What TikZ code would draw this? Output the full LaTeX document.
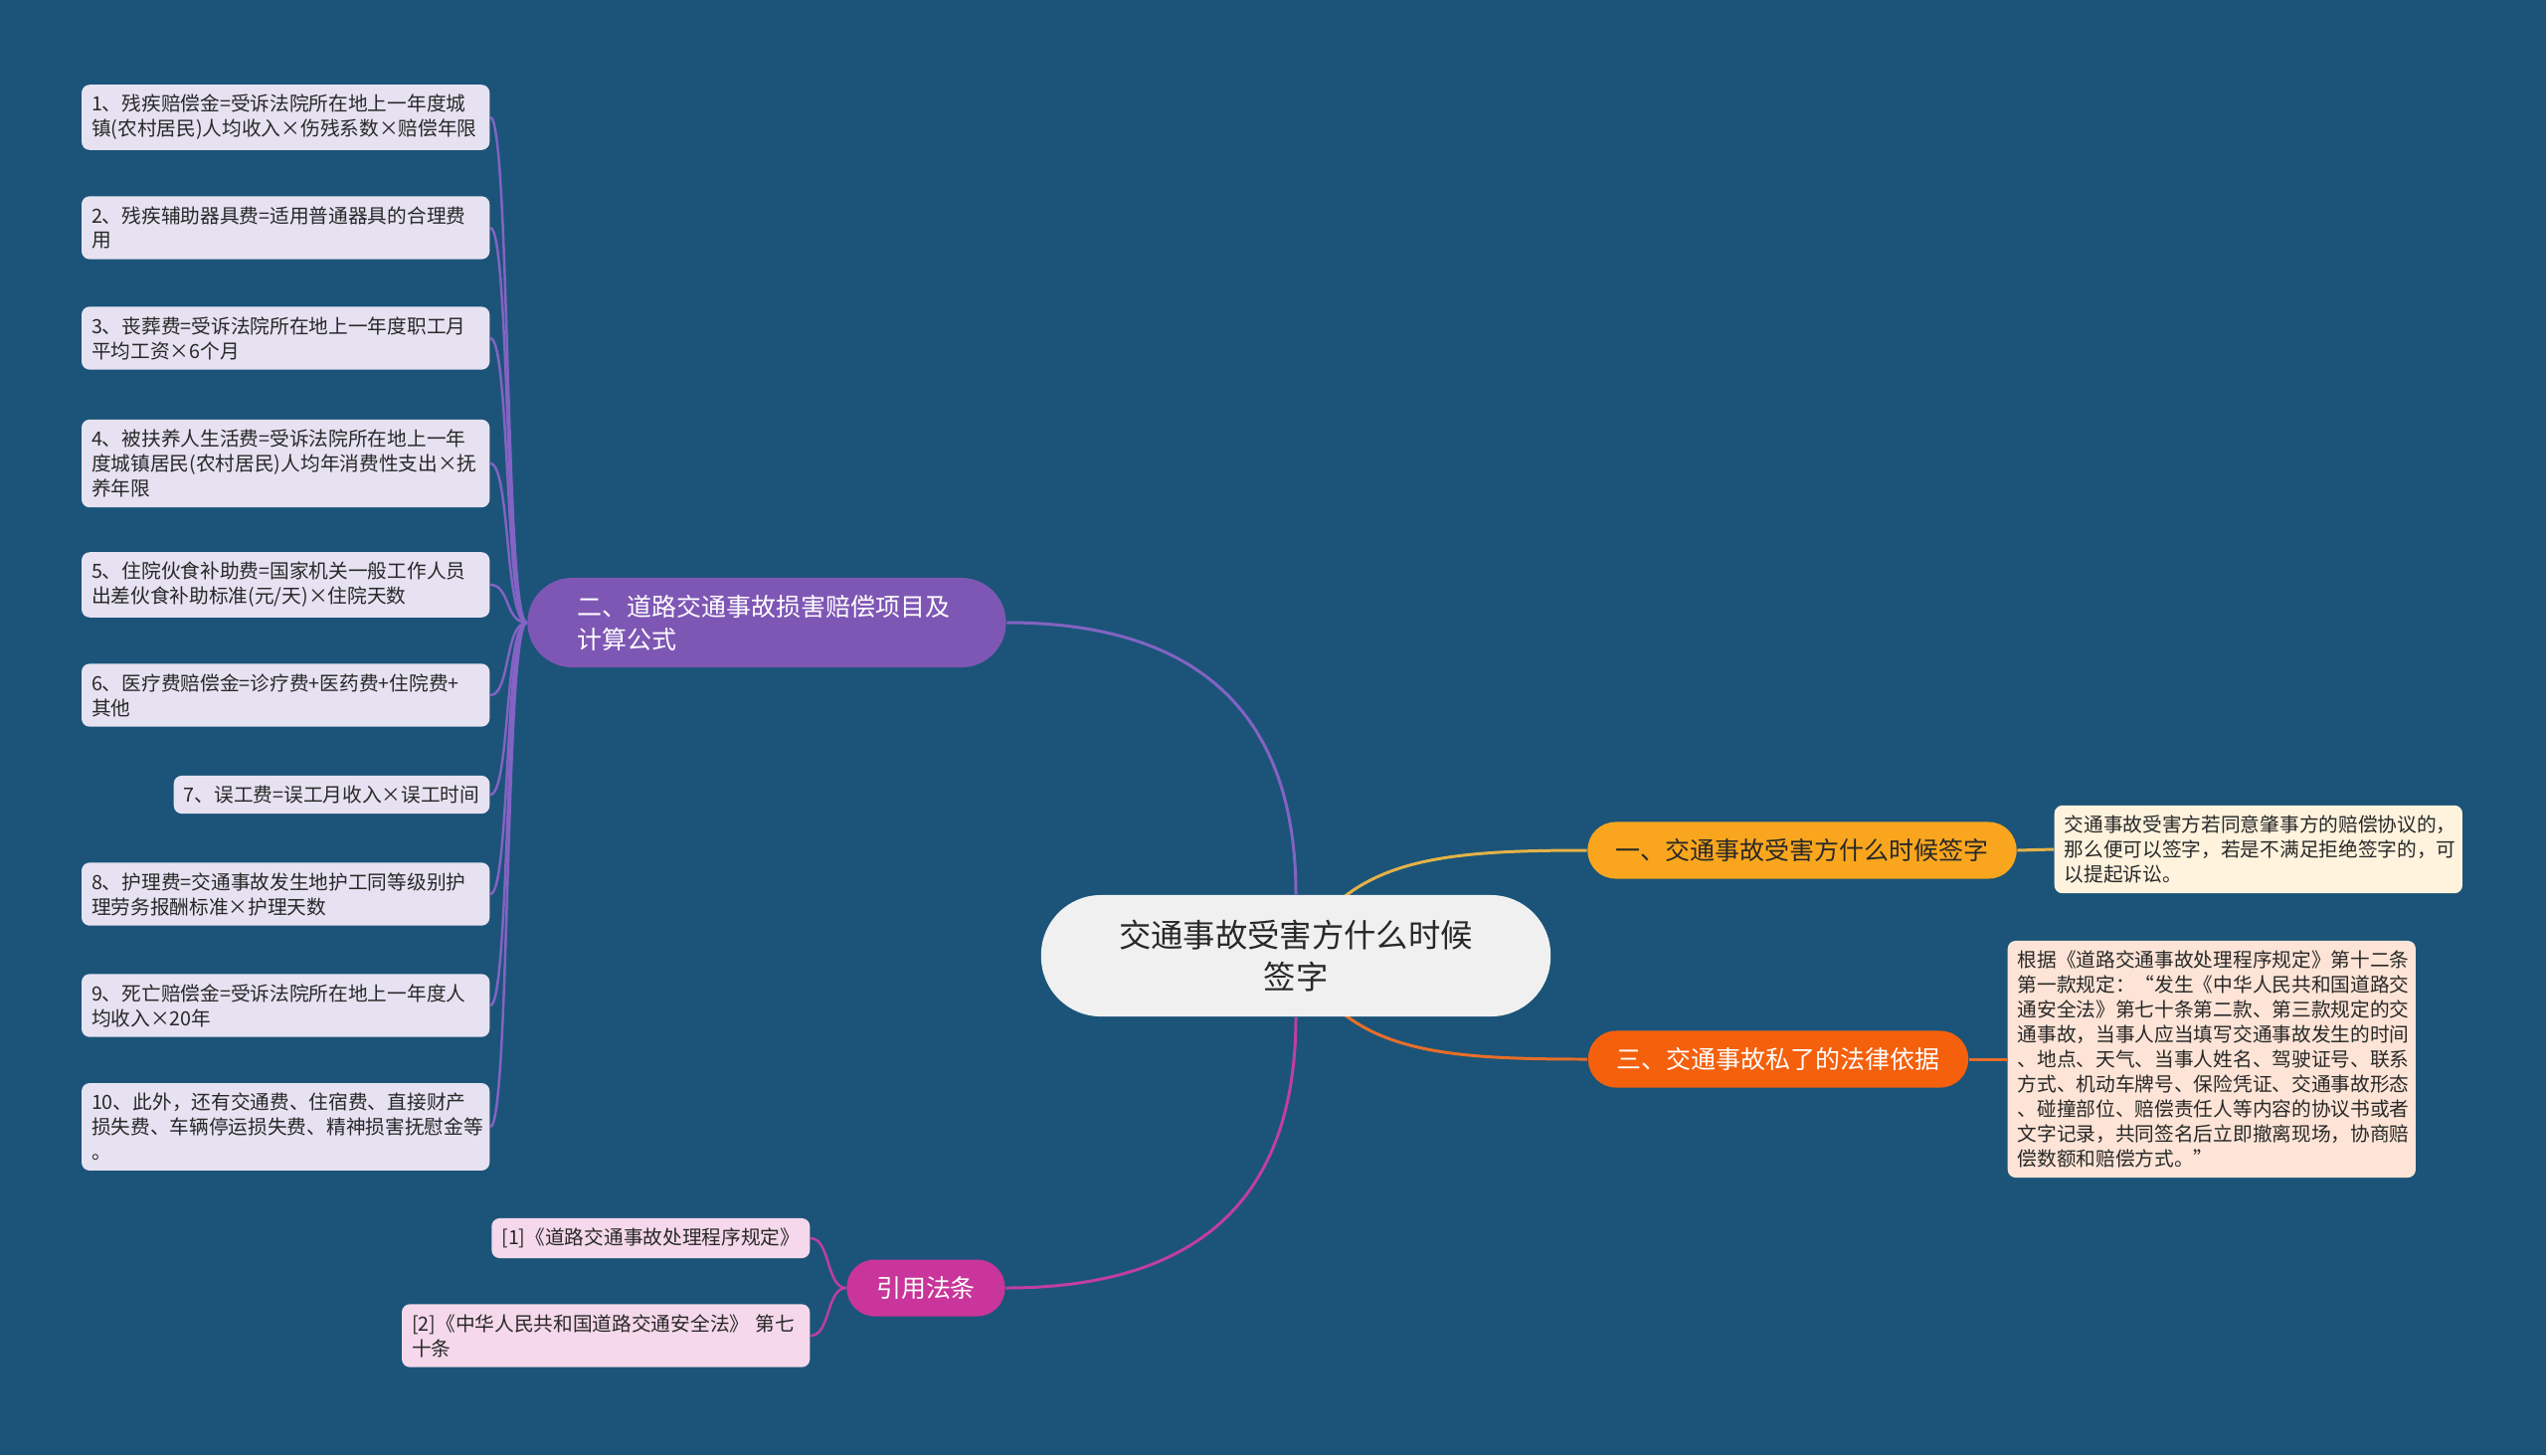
\documentclass[tikz,border=0pt]{standalone}
\usepackage{fontspec}
\setmainfont{Noto Sans CJK SC}
\usepackage{xcolor}
\usepackage{tikz}
\definecolor{bgblue}{RGB}{27,84,120}
\definecolor{rootgray}{RGB}{240,240,240}
\definecolor{textdark}{RGB}{40,40,40}
\definecolor{calcfill}{RGB}{126,87,181}
\definecolor{calcline}{RGB}{131,99,196}
\definecolor{calcleaf}{RGB}{231,226,242}
\definecolor{whenfill}{RGB}{249,166,30}
\definecolor{whenline}{RGB}{228,178,72}
\definecolor{whenleaf}{RGB}{255,243,222}
\definecolor{lawfill}{RGB}{245,96,13}
\definecolor{lawline}{RGB}{232,110,40}
\definecolor{lawleaf}{RGB}{253,228,214}
\definecolor{citefill}{RGB}{201,53,154}
\definecolor{citeline}{RGB}{192,62,162}
\definecolor{citeleaf}{RGB}{245,216,235}
\pgfdeclarelayer{bg}
\pgfsetlayers{bg,main}

\begin{document}
\begin{tikzpicture}[x=0.01cm, y=-0.01cm,
    rootbox/.style={fill=rootgray, rounded corners=0.6cm, minimum width=5.12cm, minimum height=1.22cm, inner sep=0pt, align=center, text=textdark, font=\fontsize{9.2}{11.9}\selectfont},
    branchbox/.style={rounded corners=0.28cm, minimum height=0.57cm, inner sep=0pt, font=\fontsize{7.1}{9.4}\selectfont},
    notebox/.style={rounded corners=0.08cm, align=left, inner sep=0.1cm, text=textdark, font=\fontsize{5.6}{7.1}\selectfont},
    leafbox/.style={notebox, text width=3.9cm},
    link/.style={line width=0.85pt},
    leaflink/.style={line width=0.7pt}]
    \node[rootbox] (root) at (1303,961) {交通事故受害方什么时候\\签字};

    \node[branchbox, fill=calcfill, text=white, minimum width=4.81cm, minimum height=0.9cm, rounded corners=0.45cm, text width=3.8cm, align=left] (calc) at (771,626) {二、道路交通事故损害赔偿项目及\\计算公式};
    \node[branchbox, fill=whenfill, text=textdark, minimum width=4.31cm] (when) at (1812,855) {一、交通事故受害方什么时候签字};
    \node[branchbox, fill=lawfill, text=white, minimum width=3.82cm] (law) at (1788,1065) {三、交通事故私了的法律依据};
    \node[branchbox, fill=citefill, text=white, minimum width=1.59cm] (cite) at (931,1295) {引用法条};

    \node[leafbox, fill=calcleaf, anchor=east] (f1) at (493,118) {1、残疾赔偿金=受诉法院所在地上一年度城\\镇(农村居民)人均收入×伤残系数×赔偿年限};
    \node[leafbox, fill=calcleaf, anchor=east] (f2) at (493,229) {2、残疾辅助器具费=适用普通器具的合理费\\用};
    \node[leafbox, fill=calcleaf, anchor=east] (f3) at (493,340) {3、丧葬费=受诉法院所在地上一年度职工月\\平均工资×6个月};
    \node[leafbox, fill=calcleaf, anchor=east] (f4) at (493,466) {4、被扶养人生活费=受诉法院所在地上一年\\度城镇居民(农村居民)人均年消费性支出×抚\\养年限};
    \node[leafbox, fill=calcleaf, anchor=east] (f5) at (493,588) {5、住院伙食补助费=国家机关一般工作人员\\出差伙食补助标准(元/天)×住院天数};
    \node[leafbox, fill=calcleaf, anchor=east] (f6) at (493,699) {6、医疗费赔偿金=诊疗费+医药费+住院费+\\其他};
    \node[notebox, fill=calcleaf, anchor=east] (f7) at (493,799) {7、误工费=误工月收入×误工时间};
    \node[leafbox, fill=calcleaf, anchor=east] (f8) at (493,899) {8、护理费=交通事故发生地护工同等级别护\\理劳务报酬标准×护理天数};
    \node[leafbox, fill=calcleaf, anchor=east] (f9) at (493,1011) {9、死亡赔偿金=受诉法院所在地上一年度人\\均收入×20年};
    \node[leafbox, fill=calcleaf, anchor=east] (f10) at (493,1133) {10、此外，还有交通费、住宿费、直接财产\\损失费、车辆停运损失费、精神损害抚慰金等\\。};

    \node[leafbox, fill=whenleaf, anchor=west] (whennote) at (2065,854) {交通事故受害方若同意肇事方的赔偿协议的，\\那么便可以签字，若是不满足拒绝签字的，可\\以提起诉讼。};
    \node[leafbox, fill=lawleaf, anchor=west] (lawnote) at (2018,1065) {根据《道路交通事故处理程序规定》第十二条\\第一款规定：“发生《中华人民共和国道路交\\通安全法》第七十条第二款、第三款规定的交\\通事故，当事人应当填写交通事故发生的时间\\、地点、天气、当事人姓名、驾驶证号、联系\\方式、机动车牌号、保险凭证、交通事故形态\\、碰撞部位、赔偿责任人等内容的协议书或者\\文字记录，共同签名后立即撤离现场，协商赔\\偿数额和赔偿方式。”};

    \node[notebox, fill=citeleaf, anchor=east] (r1) at (815,1245) {[1]《道路交通事故处理程序规定》};
    \node[leafbox, fill=citeleaf, anchor=east] (r2) at (815,1343) {[2]《中华人民共和国道路交通安全法》~第七\\十条};

    \begin{pgfonlayer}{bg}
        \fill[bgblue] (0,0) rectangle (2560,1463);
        \draw[link, calcline] (root.north) .. controls (1303,717) and (1204,626) .. (calc.east);
        \draw[link, whenline] (root.center) .. controls (1355,865) and (1440,855) .. (when.west);
        \draw[link, lawline] (root.center) .. controls (1355,1057) and (1440,1065) .. (law.west);
        \draw[link, citeline] (root.south) .. controls (1303,1204) and (1206,1295) .. (cite.east);
        \draw[link, whenline] (when.east) -- (whennote.west);
        \draw[link, lawline] (law.east) -- (lawnote.west);
        \draw[leaflink, calcline] (calc.west) .. controls +(-22,0) and +(20,0) .. (f1.east);
        \draw[leaflink, calcline] (calc.west) .. controls +(-22,0) and +(20,0) .. (f2.east);
        \draw[leaflink, calcline] (calc.west) .. controls +(-22,0) and +(20,0) .. (f3.east);
        \draw[leaflink, calcline] (calc.west) .. controls +(-22,0) and +(20,0) .. (f4.east);
        \draw[leaflink, calcline] (calc.west) .. controls +(-22,0) and +(20,0) .. (f5.east);
        \draw[leaflink, calcline] (calc.west) .. controls +(-22,0) and +(20,0) .. (f6.east);
        \draw[leaflink, calcline] (calc.west) .. controls +(-22,0) and +(20,0) .. (f7.east);
        \draw[leaflink, calcline] (calc.west) .. controls +(-22,0) and +(20,0) .. (f8.east);
        \draw[leaflink, calcline] (calc.west) .. controls +(-22,0) and +(20,0) .. (f9.east);
        \draw[leaflink, calcline] (calc.west) .. controls +(-22,0) and +(20,0) .. (f10.east);
        \draw[leaflink, citeline] (cite.west) .. controls +(-20,0) and +(20,0) .. (r1.east);
        \draw[leaflink, citeline] (cite.west) .. controls +(-20,0) and +(20,0) .. (r2.east);
    \end{pgfonlayer}
\end{tikzpicture}
\end{document}
